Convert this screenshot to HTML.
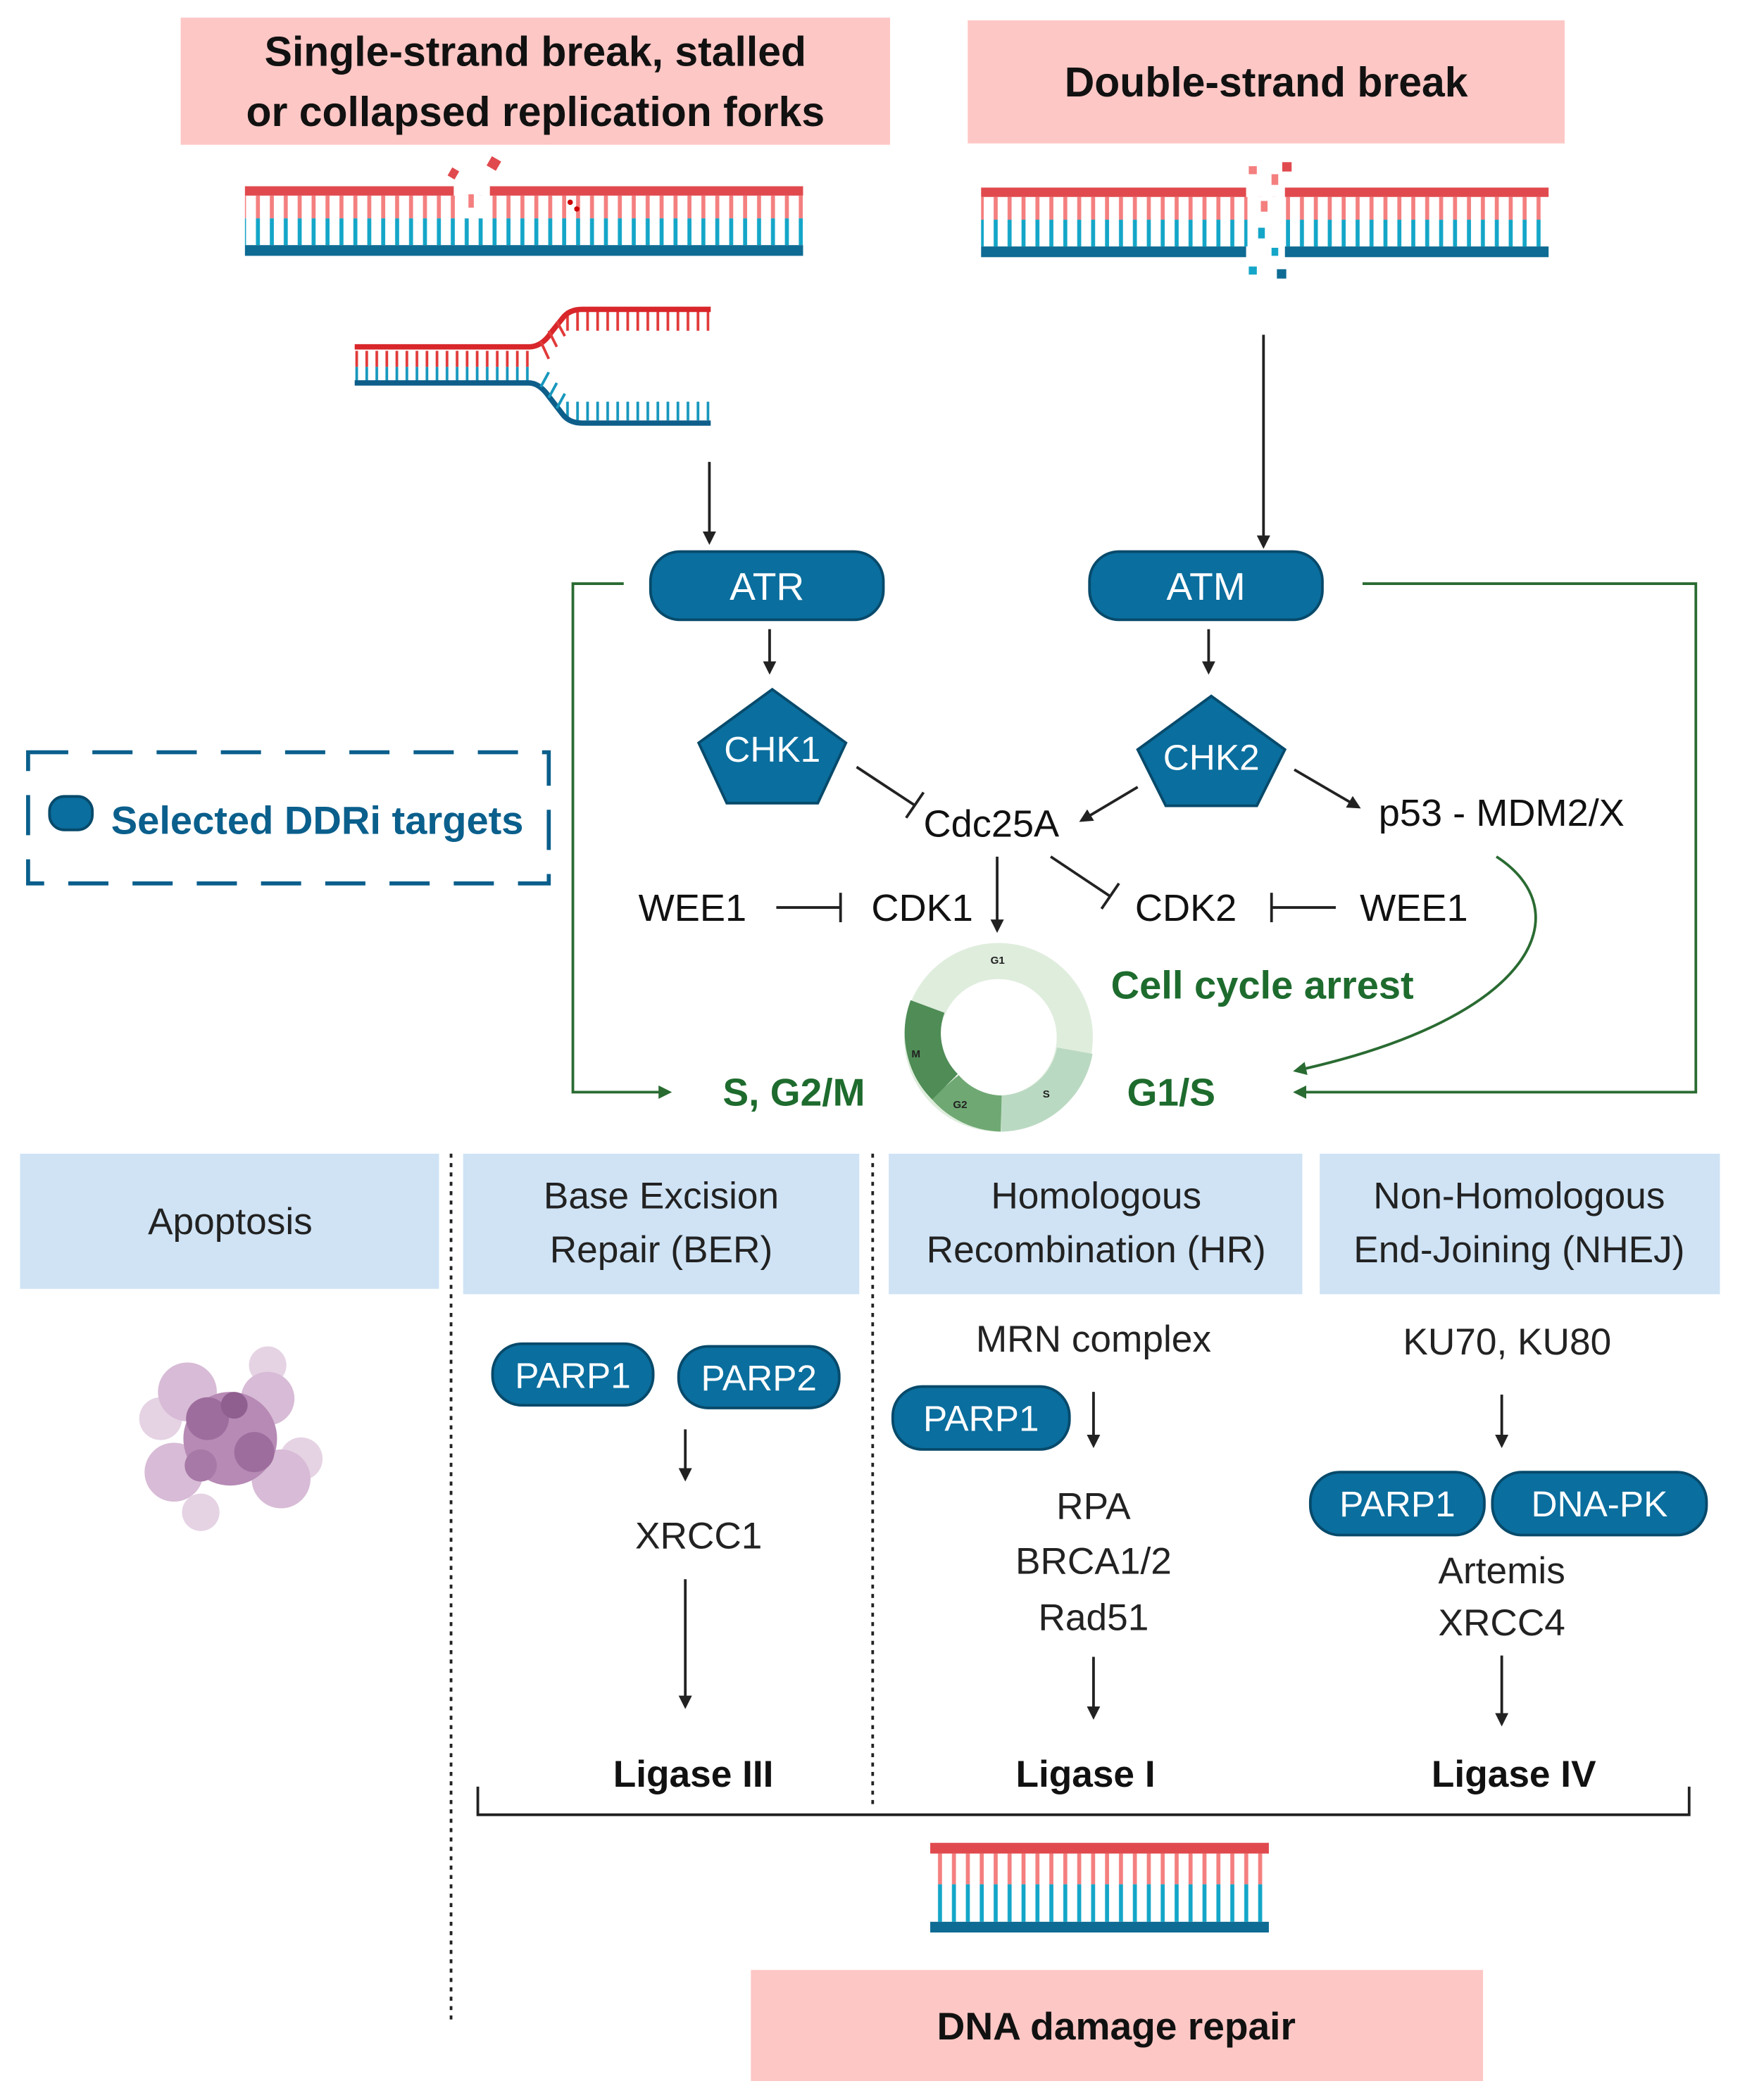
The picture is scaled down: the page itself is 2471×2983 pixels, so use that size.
<!DOCTYPE html>
<html><head><meta charset="utf-8"><style>html,body{margin:0;padding:0;background:#fff}svg{display:block}</style></head>
<body>
<svg width="2471" height="2983" viewBox="0 0 1300 1569" xmlns="http://www.w3.org/2000/svg" font-family="Liberation Sans, sans-serif">
<defs>
<marker id="ab" markerWidth="10" markerHeight="10" refX="8" refY="5" orient="auto" markerUnits="userSpaceOnUse"><path d="M0,0 L10,5 L0,10 Z" fill="#222"/></marker>
<marker id="ag" markerWidth="10" markerHeight="10" refX="8" refY="5" orient="auto" markerUnits="userSpaceOnUse"><path d="M0,0 L10,5 L0,10 Z" fill="#2a6b32"/></marker>
<pattern id="rr" width="10.4" height="20" patternUnits="userSpaceOnUse"><rect x="4" width="3" height="20" fill="#f47f7f"/></pattern>
<pattern id="br" width="10.4" height="20" patternUnits="userSpaceOnUse"><rect x="4" width="3" height="20" fill="#14a6c8"/></pattern>
<pattern id="rr2" width="7.5" height="20" patternUnits="userSpaceOnUse"><rect x="3" width="2" height="20" fill="#e23a3a"/></pattern>
<pattern id="br2" width="7.5" height="20" patternUnits="userSpaceOnUse"><rect x="3" width="2" height="20" fill="#1797bd"/></pattern>
</defs>
<rect x="135" y="13" width="530" height="95" fill="#fdc7c5"/>
<text x="400" y="49" font-size="31" font-weight="bold" text-anchor="middle" fill="#111">Single-strand break,  stalled</text>
<text x="400" y="94" font-size="31" font-weight="bold" text-anchor="middle" fill="#111">or collapsed replication forks</text>
<rect x="723" y="15" width="446" height="92" fill="#fdc7c5"/>
<text x="946" y="72" font-size="31" font-weight="bold" text-anchor="middle" fill="#111">Double-strand break</text>
<rect x="183" y="146" width="417" height="17" fill="url(#rr)"/>
<rect x="183" y="163" width="417" height="20" fill="url(#br)"/>
<rect x="340" y="146" width="24" height="17" fill="#fff"/>
<rect x="183" y="139" width="156" height="7" fill="#e04a4e"/>
<rect x="366" y="139" width="234" height="7" fill="#e04a4e"/>
<rect x="183" y="183" width="417" height="8" fill="#0e6b93"/>
<rect x="336" y="126" width="6" height="7" fill="#e04a4e" transform="rotate(30 339 129)"/>
<rect x="365" y="118" width="8" height="8" fill="#e04a4e" transform="rotate(30 369 122)"/>
<rect x="350" y="145" width="4" height="10" fill="#f47f7f"/>
<circle cx="426" cy="151" r="2" fill="#c00"/><circle cx="431" cy="156" r="2" fill="#c00"/>
<rect x="733" y="147" width="424" height="17" fill="url(#rr)"/>
<rect x="733" y="164" width="424" height="20" fill="url(#br)"/>
<rect x="932" y="147" width="26" height="40" fill="#fff"/>
<rect x="733" y="140" width="198" height="7" fill="#e04a4e"/>
<rect x="960" y="140" width="197" height="7" fill="#e04a4e"/>
<rect x="733" y="184" width="198" height="8" fill="#0e6b93"/>
<rect x="960" y="184" width="197" height="8" fill="#0e6b93"/>
<g fill="#f47f7f"><rect x="933" y="124" width="6" height="6"/><rect x="950" y="130" width="5" height="8"/><rect x="942" y="150" width="5" height="8"/></g>
<rect x="958" y="121" width="7" height="7" fill="#e04a4e"/>
<g fill="#14a6c8"><rect x="940" y="170" width="5" height="8"/><rect x="950" y="185" width="5" height="6"/><rect x="933" y="199" width="6" height="6"/><rect x="954" y="201" width="7" height="7" fill="#0e6b93"/></g>
<rect x="265" y="262" width="135" height="12" fill="url(#rr2)"/>
<rect x="265" y="274" width="135" height="11" fill="url(#br2)"/>
<rect x="420" y="232" width="110" height="15" fill="url(#rr2)"/>
<rect x="420" y="300" width="110" height="14" fill="url(#br2)"/>
<path d="M265,259 L395,259 Q405,259 412,248 L420,238 Q425,231 435,231 L531,231" stroke="#d8262a" stroke-width="4" fill="none"/>
<path d="M265,286 L395,286 Q403,286 410,296 L420,309 Q425,316 435,316 L531,316" stroke="#0e5e8a" stroke-width="4" fill="none"/>
<g stroke="#e23a3a" stroke-width="2"><line x1="404" y1="255" x2="410" y2="268"/><line x1="410" y1="247" x2="416" y2="259"/><line x1="416" y1="240" x2="422" y2="251"/></g>
<g stroke="#1797bd" stroke-width="2"><line x1="404" y1="289" x2="410" y2="278"/><line x1="410" y1="297" x2="416" y2="286"/><line x1="416" y1="305" x2="422" y2="294"/></g>
<g stroke="#222" stroke-width="2" fill="none">
<line x1="530" y1="345" x2="530" y2="405" marker-end="url(#ab)"/>
<line x1="944" y1="250" x2="944" y2="408" marker-end="url(#ab)"/>
<line x1="575" y1="470" x2="575" y2="502" marker-end="url(#ab)"/>
<line x1="903" y1="470" x2="903" y2="502" marker-end="url(#ab)"/>
<line x1="640" y1="573" x2="684" y2="602"/><line x1="677" y1="611" x2="690" y2="592"/>
<line x1="850" y1="588" x2="808" y2="613" marker-end="url(#ab)"/>
<line x1="967" y1="575" x2="1015" y2="603" marker-end="url(#ab)"/>
<line x1="745" y1="640" x2="745" y2="695" marker-end="url(#ab)"/>
<line x1="785" y1="640" x2="830" y2="670"/><line x1="823" y1="679" x2="836" y2="660"/>
<line x1="580" y1="678" x2="628" y2="678"/><line x1="628" y1="667" x2="628" y2="689"/>
<line x1="950" y1="678" x2="998" y2="678"/><line x1="950" y1="667" x2="950" y2="689"/>
</g>
<g stroke="#2a6b32" stroke-width="2" fill="none">
<polyline points="466,436 428,436 428,816 500,816" marker-end="url(#ag)"/>
<polyline points="1018,436 1267,436 1267,816 968,816" marker-end="url(#ag)"/>
<path d="M1118,640 C1180,680 1150,760 968,800" marker-end="url(#ag)"/>
</g>
<rect x="486" y="412" width="174" height="51" rx="22" fill="#0a6e9e" stroke="#074a6b" stroke-width="2"/>
<text x="573" y="448" font-size="29" fill="#fff" text-anchor="middle">ATR</text>
<rect x="814" y="412" width="174" height="51" rx="22" fill="#0a6e9e" stroke="#074a6b" stroke-width="2"/>
<text x="901" y="448" font-size="29" fill="#fff" text-anchor="middle">ATM</text>
<polygon points="577,515 632,555 611,600 543,600 522,555" fill="#0a6e9e" stroke="#074a6b" stroke-width="2"/>
<text x="577" y="569" font-size="27" fill="#fff" text-anchor="middle">CHK1</text>
<polygon points="905,520 960,560 939,602 871,602 850,560" fill="#0a6e9e" stroke="#074a6b" stroke-width="2"/>
<text x="905" y="575" font-size="27" fill="#fff" text-anchor="middle">CHK2</text>
<rect x="21" y="562" width="389" height="98" fill="none" stroke="#0a5f8c" stroke-width="3" stroke-dasharray="30,18"/>
<rect x="37" y="595" width="32" height="25" rx="11" fill="#0a6e9e" stroke="#074a6b" stroke-width="2"/>
<text x="83" y="623" font-size="29.5" font-weight="bold" fill="#0a5f8c">Selected DDRi targets</text>
<g font-size="28.5" fill="#111">
<text x="690" y="625">Cdc25A</text>
<text x="1030" y="617">p53 - MDM2/X</text>
<text x="477" y="688">WEE1</text>
<text x="651" y="688">CDK1</text>
<text x="848" y="688">CDK2</text>
<text x="1016" y="688">WEE1</text>
</g>
<text x="830" y="746" font-size="29.5" font-weight="bold" fill="#1e6b2e">Cell cycle arrest</text>
<text x="540" y="826" font-size="29" font-weight="bold" fill="#1e6b2e">S, G2/M</text>
<text x="842" y="826" font-size="29" font-weight="bold" fill="#1e6b2e">G1/S</text>
<g fill="none" stroke-width="27">
<circle cx="746" cy="775" r="57" stroke="#dfeddd"/>
<path d="M803,785 A57,57 0 0 1 748,832" stroke="#bad9c2"/>
<path d="M748,832 A57,57 0 0 1 706,812" stroke="#6fa873"/>
<path d="M706,812 A57,57 0 0 1 693,752" stroke="#4f8c56"/>
</g>
<g font-size="8" font-weight="bold" fill="#222"><text x="740" y="720">G1</text><text x="779" y="820">S</text><text x="712" y="828">G2</text><text x="681" y="790">M</text></g>
<g fill="#cfe3f5">
<rect x="15" y="862" width="313" height="101"/>
<rect x="346" y="862" width="296" height="105"/>
<rect x="664" y="862" width="309" height="105"/>
<rect x="986" y="862" width="299" height="105"/>
</g>
<g font-size="28" fill="#222" text-anchor="middle">
<text x="172" y="922">Apoptosis</text>
<text x="494" y="903">Base Excision</text><text x="494" y="943">Repair (BER)</text>
<text x="819" y="903">Homologous</text><text x="819" y="943">Recombination (HR)</text>
<text x="1135" y="903">Non-Homologous</text><text x="1135" y="943">End-Joining (NHEJ)</text>
<text x="522" y="1157">XRCC1</text>
<text x="817" y="1010">MRN complex</text>
<text x="817" y="1135">RPA</text><text x="817" y="1176">BRCA1/2</text><text x="817" y="1218">Rad51</text>
<text x="1126" y="1012">KU70, KU80</text>
<text x="1122" y="1183">Artemis</text><text x="1122" y="1222">XRCC4</text>
</g>
<g font-size="28" font-weight="bold" fill="#111" text-anchor="middle">
<text x="518" y="1335">Ligase III</text><text x="811" y="1335">Ligase I</text><text x="1131" y="1335">Ligase IV</text>
</g>
<g stroke="#222" stroke-width="2" stroke-dasharray="3,4"><line x1="337" y1="862" x2="337" y2="1510"/><line x1="652" y1="862" x2="652" y2="1348"/></g>
<g fill="#0a6e9e" stroke="#074a6b" stroke-width="2">
<rect x="368" y="1004" width="120" height="46" rx="22"/><rect x="507" y="1006" width="120" height="46" rx="22"/>
<rect x="667" y="1036" width="132" height="47" rx="22"/>
<rect x="979" y="1100" width="130" height="47" rx="22"/><rect x="1115" y="1100" width="160" height="47" rx="22"/>
</g>
<g font-size="27" fill="#fff" text-anchor="middle">
<text x="428" y="1037">PARP1</text><text x="567" y="1039">PARP2</text>
<text x="733" y="1069">PARP1</text>
<text x="1044" y="1133">PARP1</text><text x="1195" y="1133">DNA-PK</text>
</g>
<g stroke="#222" stroke-width="2">
<line x1="512" y1="1068" x2="512" y2="1105" marker-end="url(#ab)"/>
<line x1="512" y1="1180" x2="512" y2="1275" marker-end="url(#ab)"/>
<line x1="817" y1="1040" x2="817" y2="1080" marker-end="url(#ab)"/>
<line x1="817" y1="1238" x2="817" y2="1283" marker-end="url(#ab)"/>
<line x1="1122" y1="1042" x2="1122" y2="1080" marker-end="url(#ab)"/>
<line x1="1122" y1="1237" x2="1122" y2="1288" marker-end="url(#ab)"/>
</g>
<polyline points="357,1335 357,1356 1262,1356 1262,1335" fill="none" stroke="#222" stroke-width="2"/>
<rect x="695" y="1385" width="253" height="23" fill="url(#rr)"/>
<rect x="695" y="1408" width="253" height="28" fill="url(#br)"/>
<rect x="695" y="1377" width="253" height="8" fill="#e04a4e"/>
<rect x="695" y="1436" width="253" height="8" fill="#0e6b93"/>
<rect x="561" y="1472" width="547" height="83" fill="#fdc7c5"/>
<text x="834" y="1524" font-size="29" font-weight="bold" text-anchor="middle" fill="#111">DNA damage repair</text>
<g>
<circle cx="120" cy="1060" r="16" fill="#e5d3e4"/><circle cx="225" cy="1090" r="16" fill="#e5d3e4"/>
<circle cx="150" cy="1130" r="14" fill="#e5d3e4"/><circle cx="200" cy="1020" r="14" fill="#e5d3e4"/>
<circle cx="140" cy="1040" r="22" fill="#d8bbd6"/><circle cx="200" cy="1045" r="20" fill="#d8bbd6"/>
<circle cx="130" cy="1100" r="22" fill="#d8bbd6"/><circle cx="210" cy="1105" r="22" fill="#d8bbd6"/>
<circle cx="172" cy="1075" r="35" fill="#b68ab5"/>
<circle cx="155" cy="1060" r="16" fill="#9d6d9d"/><circle cx="190" cy="1085" r="15" fill="#9d6d9d"/>
<circle cx="175" cy="1050" r="10" fill="#8f5f90"/><circle cx="150" cy="1095" r="12" fill="#a679a6"/>
</g>
</svg>
</body></html>
